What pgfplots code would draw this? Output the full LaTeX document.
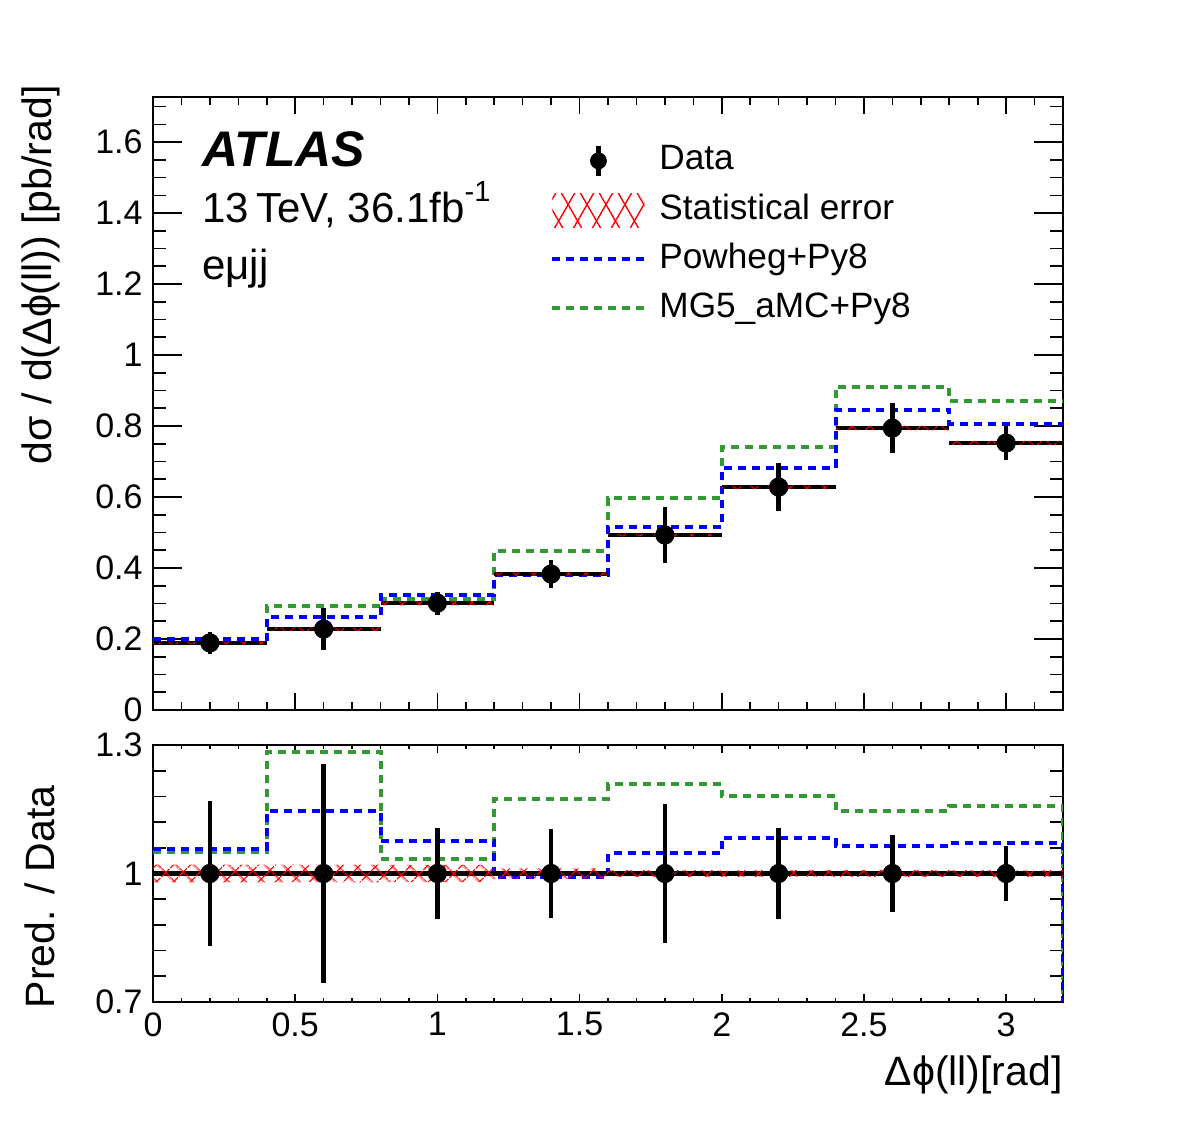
\documentclass[border=0pt]{standalone}
\usepackage{fontspec}
\setmainfont{Liberation Sans}
\usepackage{pgfplots}
\usepackage{pgfplotstable}
\pgfplotsset{compat=1.18}
\usetikzlibrary{patterns.meta}

\definecolor{mggreen}{RGB}{51,153,51}

\newcommand\tickfont{\fontsize{17}{20}\selectfont}
\newcommand\titlefont{\fontsize{20.5}{24}\selectfont}
\newcommand\legfont{\fontsize{17.6}{21}\selectfont}

% unfolded measurement: bin centre, half width, value, total uncertainty
\pgfplotstableread{
x   ex   y     ey
0.2 0.2  0.189 0.032
0.6 0.2  0.228 0.058
1.0 0.2  0.301 0.032
1.4 0.2  0.383 0.040
1.8 0.2  0.493 0.080
2.2 0.2  0.628 0.067
2.6 0.2  0.794 0.071
3.0 0.2  0.752 0.048
}\datatab

% relative uncertainty for the ratio panel
\pgfplotstableread{
x   ex   r  er
0.2 0.2  1  0.170
0.6 0.2  1  0.256
1.0 0.2  1  0.107
1.4 0.2  1  0.105
1.8 0.2  1  0.162
2.2 0.2  1  0.106
2.6 0.2  1  0.090
3.0 0.2  1  0.064
}\ratiotab

% predictions, left bin edges (last edge repeated)
\pgfplotstableread{
edge pow   mg
0.0  0.200 0.199
0.4  0.261 0.293
0.8  0.324 0.312
1.2  0.380 0.449
1.6  0.516 0.596
2.0  0.681 0.741
2.4  0.846 0.911
2.8  0.806 0.870
3.2  0.806 0.870
}\predtab

% prediction / data
\pgfplotstableread{
edge rpow  rmg
0.0  1.058 1.051
0.4  1.145 1.283
0.8  1.077 1.035
1.2  0.991 1.173
1.6  1.047 1.208
2.0  1.084 1.180
2.4  1.065 1.147
2.8  1.072 1.157
3.2  1.072 1.157
3.2  0.7   0.7
}\predratiotab

\tikzset{
  statband/.style={draw=none, pattern={Hatch[angle=45,distance=6.4pt,line width=0.7pt]}, pattern color=red},
}

\pgfplotsset{
  rootaxis/.style={
    scale only axis,
    width=455pt,
    xmin=0, xmax=3.2,
    xtick={0,0.5,1,1.5,2,2.5,3},
    minor xtick={0.1,0.2,0.3,0.4,0.6,0.7,0.8,0.9,1.1,1.2,1.3,1.4,1.6,1.7,1.8,1.9,2.1,2.2,2.3,2.4,2.6,2.7,2.8,2.9,3.1},
    tick align=inside,
    tick pos=both,
    axis line style={line width=1pt},
    every tick/.style={black, line width=0.8pt},
    ticklabel style={font=\tickfont},
    /pgf/number format/assume math mode=true,
    /pgf/number format/fixed,
    yticklabel style={inner sep=0pt, xshift=-5pt},
    xticklabel style={inner sep=0pt, yshift=-5pt},
  },
  histpow/.style={const plot, blue, line width=2pt, dash pattern=on 4pt off 3pt},
  histmg/.style={const plot, mggreen, line width=2pt, dash pattern=on 4pt off 3pt},
}

\begin{document}
\begin{tikzpicture}
\useasboundingbox (0,0) rectangle (591pt,561.5pt);

% ---------------- main panel ----------------
\begin{axis}[
  rootaxis,
  at={(76.5pt,206.5pt)}, anchor=south west,
  height=306.5pt,
  ymin=0, ymax=1.727,
  ytick={0,0.2,0.4,0.6,0.8,1,1.2,1.4,1.6},
  minor ytick={0.05,0.1,0.15,0.25,0.3,0.35,0.45,0.5,0.55,0.65,0.7,0.75,0.85,0.9,0.95,1.05,1.1,1.15,1.25,1.3,1.35,1.45,1.5,1.55,1.65,1.7},
  xticklabel=\empty,
  major x tick style={/pgfplots/major tick length=8.5pt},
  minor x tick style={/pgfplots/minor tick length=4pt},
  major y tick style={/pgfplots/major tick length=14.5pt},
  minor y tick style={/pgfplots/minor tick length=6.5pt},
  ylabel={dσ / d(Δϕ(ll)) [pb/rad]},
  ylabel style={font=\titlefont, at={(axis description cs:-0.111,1.0196)}, rotate=0, anchor=base east, inner sep=0pt},
  legend style={at={(axis description cs:0.4363,0.9245)}, anchor=north west, draw=none, fill=none,
    inner sep=0pt, font=\legfont, row sep=7.5pt, nodes={inner sep=0pt, text height=13pt, text depth=4pt},
    /tikz/every odd column/.append style={column sep=6.5pt}},
  legend cell align=left,
]
\addlegendimage{legend image code/.code={
  \draw[black,line width=2.2pt] (23pt,-7.5pt)--(23pt,7.5pt);
  \fill[black] (23pt,0pt) circle (4pt);}}
\addlegendentry{Data}
\addlegendimage{draw=none, legend image code/.code={
  \path[draw=none, pattern={Lines[angle=60,distance=8.2pt,line width=0.7pt]}, pattern color=red]
    (0pt,-8.5pt) rectangle (46pt,8.5pt);
  \path[draw=none, pattern={Lines[angle=-60,distance=8.2pt,line width=0.7pt]}, pattern color=red]
    (0pt,-8.5pt) rectangle (46pt,8.5pt);}}
\addlegendentry{Statistical error}
\addlegendimage{legend image code/.code={
  \draw[blue, line width=2pt, dash pattern=on 4pt off 3pt] (0pt,0pt)--(46pt,0pt);}}
\addlegendentry{Powheg+Py8}
\addlegendimage{legend image code/.code={
  \draw[mggreen, line width=2pt, dash pattern=on 4pt off 3pt] (0pt,0pt)--(46pt,0pt);}}
\addlegendentry{MG5\_aMC+Py8}

\addplot[histmg, forget plot] table[x=edge, y=mg] {\predtab};
\addplot[histpow, forget plot] table[x=edge, y=pow] {\predtab};

\addplot[black, only marks, mark=*, mark size=4.6pt, forget plot,
  error bars/.cd, x dir=both, x explicit, y dir=both, y explicit,
  error mark=none, error bar style={line width=2.3pt}]
  table[x=x, y=y, x error=ex, y error=ey] {\datatab};

% statistical uncertainty band
\addplot[statband, forget plot] coordinates {
  (0,0.193) (0.4,0.193) (0.4,0.233) (0.8,0.233) (0.8,0.307) (1.2,0.307)
  (1.2,0.3876) (1.6,0.3876) (1.6,0.497) (2.0,0.497) (2.0,0.633) (2.4,0.633)
  (2.4,0.8004) (2.8,0.8004) (2.8,0.758) (3.2,0.758)
  (3.2,0.746) (2.8,0.746) (2.8,0.7876) (2.4,0.7876) (2.4,0.623) (2.0,0.623)
  (2.0,0.489) (1.6,0.489) (1.6,0.3784) (1.2,0.3784) (1.2,0.295) (0.8,0.295)
  (0.8,0.223) (0.4,0.223) (0.4,0.185) (0,0.185)
} -- cycle;

\node[anchor=base west, inner sep=0pt, font=\fontsize{25}{30}\selectfont\bfseries\itshape]
  at (axis description cs:0.0538,0.8874) {ATLAS};
\node[anchor=base west, inner sep=0pt, font=\fontsize{21}{25}\selectfont]
  at (axis description cs:0.0538,0.7945) {13\,TeV, 36.1fb\raisebox{0.5em}{\fontsize{14.5}{15}\selectfont -1}};
\node[anchor=base west, inner sep=0pt, font=\fontsize{21}{25}\selectfont]
  at (axis description cs:0.0538,0.703) {eμjj};
\end{axis}

% ---------------- ratio panel ----------------
\begin{axis}[
  rootaxis,
  at={(76.5pt,60.5pt)}, anchor=south west,
  height=128.5pt,
  ymin=0.7, ymax=1.3,
  ytick={0.7,1,1.3},
  minor ytick={0.76,0.82,0.88,0.94,1.06,1.12,1.18,1.24},
  major x tick style={/pgfplots/major tick length=4pt},
  minor x tick style={/pgfplots/minor tick length=2.2pt},
  major y tick style={/pgfplots/major tick length=14.5pt},
  minor y tick style={/pgfplots/minor tick length=6.5pt},
  xlabel={Δϕ(ll)[rad]},
  xlabel style={font=\titlefont, at={(axis description cs:1,-0.323)}, anchor=base east, inner sep=0pt},
  ylabel={Pred. / Data},
  ylabel style={font=\titlefont, at={(axis description cs:-0.1077,0.844)}, rotate=0, anchor=base east, inner sep=0pt},
]
\addplot[histmg] table[x=edge, y=rmg] {\predratiotab};
\addplot[histpow] table[x=edge, y=rpow] {\predratiotab};

\addplot[black, only marks, mark=*, mark size=4.6pt,
  error bars/.cd, x dir=both, x explicit, y dir=both, y explicit,
  error mark=none, error bar style={line width=2.3pt}]
  table[x=x, y=r, x error=ex, y error=er] {\ratiotab};

\addplot[statband] coordinates {
  (0,1.021) (0.8,1.021) (0.8,1.02) (1.2,1.02) (1.2,1.012) (1.6,1.012)
  (1.6,1.008) (3.2,1.008) (3.2,0.992) (1.6,0.992) (1.6,0.988) (1.2,0.988)
  (1.2,0.98) (0.8,0.98) (0.8,0.979) (0,0.979)
} -- cycle;
\end{axis}
\end{tikzpicture}
\end{document}
